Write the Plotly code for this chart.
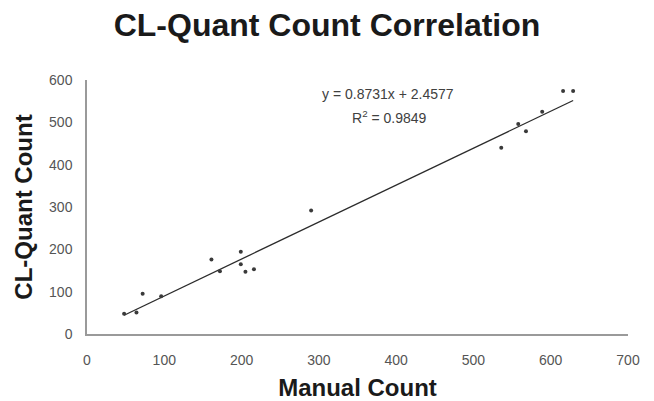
import plotly.graph_objects as go

manual_count = [48, 64, 72, 96, 161, 172, 199, 199, 205, 216, 290, 536, 558, 568, 589, 616, 629]
clquant_count = [48, 51, 95, 89, 176, 148, 194, 165, 147, 153, 292, 440, 496, 479, 525, 574, 574]

slope = 0.8731
intercept = 2.4577
r_squared = 0.9849

x_ticks = [0, 100, 200, 300, 400, 500, 600, 700]
y_ticks = [0, 100, 200, 300, 400, 500, 600]

x_min, x_max = min(manual_count), max(manual_count)
trend_x = [x_min, x_max]
trend_y = [slope * v + intercept for v in trend_x]

FONT = "Liberation Sans, Arial"

fig = go.Figure()
fig.add_trace(go.Scatter(
    x=trend_x, y=trend_y, mode="lines",
    line=dict(color="#2b2b2b", width=1.3),
    showlegend=False, hoverinfo="skip",
))
fig.add_trace(go.Scatter(
    x=manual_count, y=clquant_count, mode="markers",
    marker=dict(color="#3a3a3a", size=4),
    showlegend=False,
))

fig.add_annotation(
    x=389, y=567, xref="x", yref="y",
    text=f"y = {slope}x + {intercept}",
    showarrow=False, font=dict(family=FONT, size=14, color="#404040"),
)
fig.add_annotation(
    x=392, y=513, xref="x", yref="y",
    text=f"R<sup>2</sup> = {r_squared}",
    showarrow=False, font=dict(family=FONT, size=14, color="#404040"),
)

fig.update_layout(
    width=654, height=401,
    margin=dict(l=87, r=26, t=80, b=67, autoexpand=False),
    paper_bgcolor="white", plot_bgcolor="white",
    title=dict(
        text="<b>CL-Quant Count Correlation</b>",
        x=0.5, xanchor="center", y=1 - 25 / 401, yanchor="middle",
        font=dict(family=FONT, size=32, color="#1a1a1a"),
    ),
    xaxis=dict(
        range=[0, 700], tickvals=x_ticks, showgrid=False, zeroline=False,
        showline=True, linecolor="#9a9a9a", linewidth=1.5, ticks="",
        ticklabelstandoff=12, automargin=False,
        tickfont=dict(family=FONT, size=14, color="#555555"),
        title=dict(text="<b>Manual Count</b>", standoff=14,
                   font=dict(family=FONT, size=24, color="#1a1a1a")),
    ),
    yaxis=dict(
        range=[0, 600], tickvals=y_ticks, showgrid=False, zeroline=False,
        showline=True, linecolor="#9a9a9a", linewidth=1.5, ticks="",
        ticklabelstandoff=10, automargin=False,
        tickfont=dict(family=FONT, size=14, color="#555555"),
        title=dict(text="<b>CL-Quant Count</b>", standoff=10,
                   font=dict(family=FONT, size=24, color="#1a1a1a")),
    ),
)

fig.write_html("out.html")
